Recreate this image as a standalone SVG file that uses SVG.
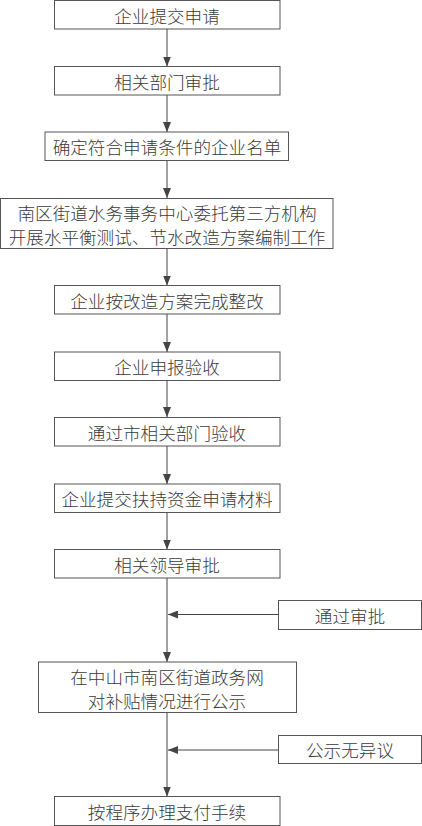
<svg xmlns="http://www.w3.org/2000/svg" width="422" height="826" viewBox="0 0 422 826">
<style>
rect{fill:#fff;stroke:#555;stroke-width:1}
text{font-family:"Noto Sans CJK SC","Noto Sans",sans-serif;font-size:17.6px;font-weight:300;fill:#3a3a3a;text-anchor:middle;dominant-baseline:central}
.c line{stroke:#444;stroke-width:1}
</style>
<defs>
<marker id="a" viewBox="0 0 10 8" refX="10" refY="4" markerWidth="10" markerHeight="8" markerUnits="userSpaceOnUse" orient="auto"><path d="M0,0 L10,4 L0,8 Z" fill="#444"/></marker>
</defs>
<rect x="0" y="0" width="422" height="826" style="fill:#fff;stroke:none"/>
<g class="c">
<line x1="167" y1="29" x2="167" y2="66.5" marker-end="url(#a)"/>
<line x1="167" y1="95" x2="167" y2="132" marker-end="url(#a)"/>
<line x1="167" y1="161" x2="167" y2="198" marker-end="url(#a)"/>
<line x1="167" y1="249" x2="167" y2="285.5" marker-end="url(#a)"/>
<line x1="167" y1="314" x2="167" y2="352" marker-end="url(#a)"/>
<line x1="167" y1="380" x2="167" y2="417" marker-end="url(#a)"/>
<line x1="167" y1="446" x2="167" y2="484" marker-end="url(#a)"/>
<line x1="167" y1="512.5" x2="167" y2="549.5" marker-end="url(#a)"/>
<line x1="167" y1="578" x2="167" y2="662" marker-end="url(#a)"/>
<line x1="278.5" y1="614.5" x2="168" y2="614.5" marker-end="url(#a)"/>
<line x1="167" y1="712.5" x2="167" y2="796.5" marker-end="url(#a)"/>
<line x1="278.5" y1="750" x2="168" y2="750" marker-end="url(#a)"/>
</g>
<g id="n1"><rect x="54.5" y="0.5" width="225.5" height="28.5"/><text x="167" y="15">企业提交申请</text></g>
<g id="n2"><rect x="54.5" y="66.5" width="225.5" height="28.5"/><text x="167" y="81">相关部门审批</text></g>
<g id="n3"><rect x="45" y="132" width="243.5" height="28.5"/><text x="167" y="146.5">确定符合申请条件的企业名单</text></g>
<g id="n4"><rect x="0.5" y="198.5" width="332.5" height="50"/><text x="167" y="212">南区街道水务事务中心委托第三方机构</text><text x="167" y="236">开展水平衡测试、节水改造方案编制工作</text></g>
<g id="n5"><rect x="54.5" y="285.5" width="225.5" height="28.5"/><text x="167" y="300">企业按改造方案完成整改</text></g>
<g id="n6"><rect x="54.5" y="352" width="225.5" height="28.5"/><text x="167" y="366.5">企业申报验收</text></g>
<g id="n7"><rect x="54.5" y="417.5" width="225.5" height="28.5"/><text x="167" y="432">通过市相关部门验收</text></g>
<g id="n8"><rect x="54.5" y="484" width="225.5" height="28.5"/><text x="167" y="498.5">企业提交扶持资金申请材料</text></g>
<g id="n9"><rect x="54.5" y="549.5" width="225.5" height="28.5"/><text x="167" y="564">相关领导审批</text></g>
<g id="n10"><rect x="278.5" y="600.5" width="143" height="29"/><text x="350" y="615">通过审批</text></g>
<g id="n11"><rect x="38.5" y="662" width="258" height="50.5"/><text x="167" y="676">在中山市南区街道政务网</text><text x="167" y="700">对补贴情况进行公示</text></g>
<g id="n12"><rect x="278.5" y="735.5" width="143" height="28"/><text x="350" y="749.5">公示无异议</text></g>
<g id="n13"><rect x="54.5" y="796.5" width="225.5" height="29"/><text x="167" y="811">按程序办理支付手续</text></g>
</svg>
